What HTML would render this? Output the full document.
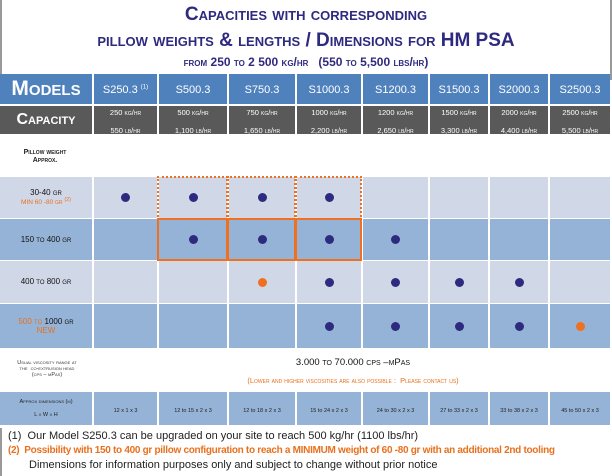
<!DOCTYPE html>
<html><head><meta charset="utf-8">
<style>
body{margin:0;background:#fff;}
#root{position:relative;width:612px;height:476px;overflow:hidden;font-family:"Liberation Sans",sans-serif;background:#fff;}
.abs{position:absolute;}
.cell{position:absolute;display:flex;align-items:center;justify-content:center;text-align:center;line-height:1.15;}
.t{color:#2e2a7f;font-weight:bold;font-variant:small-caps;width:612px;text-align:center;}
.sc{font-variant:small-caps;}
.dot{position:absolute;width:9px;height:9px;border-radius:50%;}
</style></head><body>
<div id="root">
  <div class="abs" style="left:0;top:0;width:2px;height:80px;background:#999"></div>
  <div class="abs" style="right:0;top:0;width:2px;height:80px;background:#999"></div>
  <div class="abs t" style="top:4px;font-size:19px;">Capacities with corresponding</div>
  <div class="abs t" style="top:30px;font-size:19px;">pillow weights &amp; lengths / Dimensions for HM PSA</div>
  <div class="abs t" style="top:55px;font-size:12px;">from 250 to 2 500 kg/hr &nbsp;&nbsp;(550 to 5,500 lbs/hr)</div>
  <div id="grid"></div>
  <div class="abs" style="left:0;top:428px;width:610px;height:48px;border-left:2px solid #999;border-right:2px solid #999;"></div>
  <div class="abs" style="left:8px;top:430px;font-size:11px;color:#222;white-space:nowrap;">(1)&nbsp; Our Model S250.3 can be upgraded on your site to reach 500 kg/hr (1100 lbs/hr)</div>
  <div class="abs" style="left:8px;top:445px;font-size:10px;color:#e8701e;font-weight:bold;white-space:nowrap;letter-spacing:-0.3px;">(2)&nbsp; Possibility with 150 to 400 gr pillow configuration to reach a MINIMUM weight of 60 -80 gr with an additional 2nd tooling</div>
  <div class="abs" style="left:29px;top:459px;font-size:11px;color:#222;white-space:nowrap;">Dimensions for information purposes only and subject to change without prior notice</div>
</div>
<script>
const models=["S250.3","S500.3","S750.3","S1000.3","S1200.3","S1500.3","S2000.3","S2500.3"];
const capKg=["250","500","750","1000","1200","1500","2000","2500"];
const capLb=["550","1,100","1,650","2,200","2,650","3,300","4,400","5,500"];
const dims=["12 x 1 x 3","12 to 15 x 2 x 3","12 to 18 x 2 x 3","15 to 24 x 2 x 3","24 to 30 x 2 x 3","27 to 33 x 2 x 3","33 to 38 x 2 x 3","45 to 50 x 2 x 3"];
// 0 none, 1 navy, 2 orange
const dotRow1=[1,1,1,1,0,0,0,0];
const dotRow2=[0,1,1,1,1,0,0,0];
const dotRow3=[0,0,2,1,1,1,1,0];
const dotRow4=[0,0,0,1,1,1,1,2];
const edges=[0,94,159,229,297,363,430,490,550,612];
function box(x,y,w,h,bg,html,style){
  const d=document.createElement('div');
  d.className='cell';
  d.style.cssText=`left:${x}px;top:${y}px;width:${w}px;height:${h}px;background:${bg};`+(style||'');
  d.innerHTML=html?'<div>'+html+'</div>':'';
  document.getElementById('root').appendChild(d);
  return d;
}
function row(y,h,bg,firstHtml,firstStyle,cellFn,name){
  const f=box(edges[0],y,edges[1]-edges[0]-2,h,bg,firstHtml,firstStyle);
  
  
  for(let i=0;i<8;i++){
    const x=edges[i+1],w=edges[i+2]-x-2;
    const c=box(x,y,w,h,bg,cellFn?cellFn(i):'');
    
    
  }
}
row(74,30,'#4f81bd','Models','color:#fff;font-weight:bold;font-variant:small-caps;font-size:21px;',
  i=>`<span style="color:#fff;font-size:11px;">${models[i]}${i==0?' <sup style="font-size:6px">(1)</sup>':''}</span>`,'models');
row(106,28,'#595959','Capacity','color:#fff;font-weight:bold;font-variant:small-caps;font-size:16px;',
  i=>`<span class="sc" style="color:#fff;font-size:7.5px;">${capKg[i]} kg/hr<br>${capLb[i]} lb/hr</span>`,'capacity');
const pw=box(10,143,70,28,'transparent','Pillow weight<br>Approx.','font-size:7px;font-weight:bold;font-variant:small-caps;color:#222;');


const rows=[
 {y:177,h:41,bg:'#d0d8e8',lab:'30-40 <span class="sc">gr</span><br><span style="color:#e8701e;font-size:6.5px;">MIN 60 -80 <span class="sc">gr</span> <sup>(2)</sup></span>',d:dotRow1,n:'row-30-40gr'},
 {y:219,h:41,bg:'#95b3d7',lab:'150 <span class="sc">to</span> 400 <span class="sc">gr</span>',d:dotRow2,n:'row-150-400gr'},
 {y:261,h:42,bg:'#d0d8e8',lab:'400 <span class="sc">to</span> 800 <span class="sc">gr</span>',d:dotRow3,n:'row-400-800gr'},
 {y:304,h:44,bg:'#95b3d7',lab:'<span style="color:#e8701e">500 <span class="sc">to</span></span> 1000 <span class="sc">gr</span><br><span style="color:#e8701e">NEW</span>',d:dotRow4,n:'row-500-1000gr'}
];
rows.forEach(r=>{
  row(r.y,r.h,r.bg,r.lab,'font-size:8px;color:#111;',null,r.n);
  r.d.forEach((v,i)=>{
    if(!v)return;
    const cx=(edges[i+1]+edges[i+2]-2)/2;
    const dt=document.createElement('div');
    dt.className='dot';
    dt.style.left=(cx-4.5)+'px';dt.style.top=(r.y+r.h/2-4.5)+'px';
    dt.style.background=v==1?'#2e2a7f':'#f07020';
    
    
    document.getElementById('root').appendChild(dt);
  });
});
// orange highlight boxes around S500, S750, S1000
for(let i=1;i<=3;i++){
  const x=edges[i+1],w=edges[i+2]-edges[i+1]+1;
  const a=box(x-2,176,w,44,'transparent','','border:2.5px dotted #f07020;box-sizing:border-box;');
  
  
  const b=box(x-2,218,w,43,'transparent','','border:2px solid #f07020;box-sizing:border-box;');
  
  
}
const vl=box(2,352,90,34,'transparent','Usual viscosity range at<br>the&nbsp; co-extrusion head<br>(cps – mPas)','font-size:5.5px;font-variant:small-caps;color:#333;');


const vv=box(94,356,518,28,'transparent','<span style="font-size:9.5px;color:#111">3.000 <span class="sc">to</span> 70.000 <span class="sc">cps –mPas</span></span><br><span class="sc" style="font-size:7.5px;color:#e8701e;">(Lower and higher viscosities are also possible :&nbsp; Please contact us)</span>','');


row(392,33,'#95b3d7','Approx dimensions (m)<br><br>L x W x H','font-size:5.5px;font-variant:small-caps;color:#222;',
  i=>`<span style="font-size:5.5px;color:#222">${dims[i]}</span>`,'dimensions');
</script>
</body></html>
